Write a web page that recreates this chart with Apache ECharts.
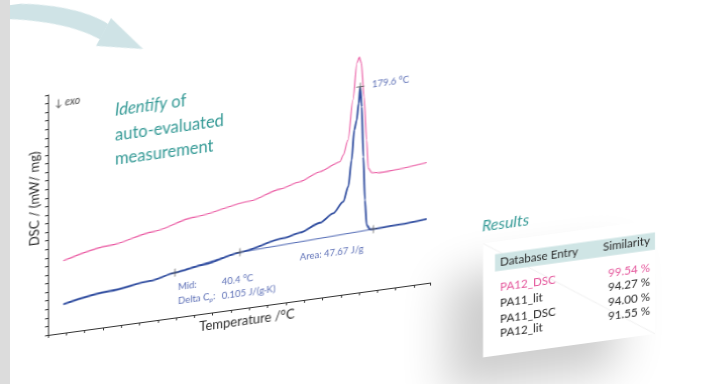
<!DOCTYPE html>
<html><head><meta charset="utf-8">
<script src="https://cdn.jsdelivr.net/npm/echarts@6/dist/echarts.min.js"></script>
<style>
html,body{margin:0;padding:0;width:720px;height:384px;overflow:hidden;background:#fff;}
#band{position:absolute;left:0;top:0;width:10px;height:384px;background:#dcdcdc;z-index:2;}
#chart{position:absolute;left:0;top:0;width:720px;height:480px;transform:skewY(-7.8deg);transform-origin:48px 0;z-index:1;}
</style></head><body>
<div id="band"></div>
<div id="chart"></div>
<script>
// ---- data ----
const pinkTemp = [-43.5, -8.4, 23.9, 53.9, 96.7, 119.3, 134.3, 149.3, 164.4, 166.8, 170.4, 174.1, 177.1, 178.9, 180.4, 182.4, 184.4, 185.6, 188.2, 194.4, 229.5];
const pinkDsc  = [0.842, 0.947, 1.037, 1.139, 1.240, 1.332, 1.386, 1.470, 1.555, 1.628, 1.796, 2.254, 2.680, 2.743, 2.673, 2.275, 1.765, 1.433, 1.377, 1.363, 1.405];

const blueTemp = [-43.5, -8.4, 21.6, 40.4, 62.9, 89.2, 121.8, 134.3, 149.3, 159.3, 166.8, 170.6, 173.1, 175.1, 176.9, 178.4, 179.6, 180.7, 181.9, 183.1, 184.4, 186.9, 189.4, 209.4, 229.5];
const blueDsc  = [0.335, 0.414, 0.467, 0.524, 0.574, 0.658, 0.753, 0.791, 0.875, 0.964, 1.083, 1.251, 1.556, 1.902, 2.015, 2.206, 2.398, 2.162, 1.576, 1.069, 0.774, 0.719, 0.716, 0.727, 0.748];

const areaBaseTemp = [89.2, 189.4];
const areaBaseDsc  = [0.658, 0.716];
const tgTangentTemp = [40.4, 89.2];
const tgTangentDsc  = [0.524, 0.658];

const markerTemp = [40.4, 89.2, 189.4, 179.6];
const markerDsc  = [0.524, 0.658, 0.716, 2.398];

const peakTemp = 179.6;
const tgMid = 40.4;
const deltaCp = 0.105;
const area = 47.67;

const dbEntries  = ['PA12_DSC', 'PA11_lit', 'PA11_DSC', 'PA12_lit'];
const similarity = [99.54, 94.27, 94.00, 91.55];

// ---- helpers ----
const K = Math.tan(7.8 * Math.PI / 180);
// convert a page (screen) point to the unskewed drawing plane
function S(x, y) { return [x, y + K * (x - 48)]; }
function zip(a, b) { return a.map((v, i) => [v, b[i]]); }
function bez(p0, p1, p2, p3, n) {
  const out = [];
  for (let i = 0; i <= n; i++) {
    const t = i / n, u = 1 - t;
    out.push([
      u*u*u*p0[0] + 3*u*u*t*p1[0] + 3*u*t*t*p2[0] + t*t*t*p3[0],
      u*u*u*p0[1] + 3*u*u*t*p1[1] + 3*u*t*t*p2[1] + t*t*t*p3[1]
    ]);
  }
  return out;
}

const PINK = '#e9529e', BLUE = '#2f4c9f', ANN = '#5a6db5', TEAL = '#339995', DARK = '#2a2a2a';
const FONT = 'Lato, "Open Sans", sans-serif';

const arrowBody = bez([2,4],[50,2],[88,11],[108,24],20)
  .concat(bez([100,39.5],[80,28],[45,19.5],[2,19],20))
  .map(p => S(p[0], p[1]));
const arrowHead = [[111,18],[143,49],[96,46]].map(p => S(p[0], p[1]));

function txt(x, y, text, font, fill, align, valign, extra) {
  const st = Object.assign({
    text: text, font: font, fill: fill,
    align: align || 'left', verticalAlign: valign || 'middle',
    textAlign: align || 'left', textVerticalAlign: valign || 'middle'
  }, extra || {});
  return { type: 'text', x: x, y: y, z: 10, silent: true, style: st };
}

const graphics = [
  { type: 'polygon', shape: { points: arrowBody }, style: { fill: '#cfe3e6' }, silent: true },
  { type: 'polygon', shape: { points: arrowHead }, style: { fill: '#cfe3e6' }, silent: true },
  // results card
  { type: 'rect', shape: { x: 483, y: 303, width: 172, height: 114 },
    style: { fill: '#ffffff', shadowBlur: 45, shadowColor: 'rgba(0,0,0,0.2)', shadowOffsetX: -36, shadowOffsetY: 30 }, silent: true },
  { type: 'line', shape: { x1: 483, y1: 303, x2: 655, y2: 417 }, style: { stroke: 'rgba(0,0,0,0.06)', lineWidth: 1 }, silent: true },
  { type: 'rect', shape: { x: 495, y: 315.5, width: 160, height: 17.2 }, style: { fill: '#cfe5e5' }, silent: true },
  txt(482, 285.9, 'Results', 'italic 16px ' + FONT, TEAL),
  txt(500, 323.9, 'Database Entry', '11.6px ' + FONT, DARK),
  txt(650, 323.5, 'Similarity', '11.6px ' + FONT, DARK, 'right'),
  // title
  txt(115, 120, '{i|Identify} of', '16.5px ' + FONT, TEAL, 'left', 'middle',
      { rich: { i: { fontStyle: 'italic', fontSize: 16.5, fontFamily: FONT, fill: TEAL } } }),
  txt(115, 144.5, 'auto-evaluated', '16.5px ' + FONT, TEAL),
  txt(115, 169, 'measurement', '16.5px ' + FONT, TEAL),
  txt(55, 104.9, '\u2193 {i|exo}', '10px ' + FONT, '#444', 'left', 'middle',
      { rich: { i: { fontStyle: 'italic', fontSize: 10.5, fontFamily: FONT, fill: '#444' } } }),
  // annotations
  txt(372, 129.4, peakTemp.toFixed(1) + ' \u00b0C', '9.5px ' + FONT, ANN),
  txt(331.7, 292.2, 'Area: ' + area.toFixed(2) + ' J/g', '9.5px ' + FONT, ANN, 'center'),
  txt(178, 304.7, 'Mid:', '9.5px ' + FONT, ANN),
  txt(221.7, 305.7, tgMid.toFixed(1) + ' \u00b0C', '9.5px ' + FONT, ANN),
  txt(178, 318.8, 'Delta C{sub|p}:', '9.5px ' + FONT, ANN, 'left', 'middle',
      { lineHeight: 13, rich: { sub: { fontSize: 6.5, fontFamily: FONT, fill: ANN, verticalAlign: 'bottom', lineHeight: 13 } } }),
  txt(221.7, 320.1, deltaCp.toFixed(3) + ' J/(g\u00b7K)', '9.5px ' + FONT, ANN)
];

const leftRowY = [349, 365.5, 381, 395];
const rightRowY = [350, 364.5, 379, 393.5];
dbEntries.forEach((name, i) => {
  const col = i === 0 ? '#e5579c' : DARK;
  graphics.push(txt(500, leftRowY[i], name, '11.6px ' + FONT, col));
  graphics.push(txt(650, rightRowY[i], similarity[i].toFixed(2) + ' %', '11.6px ' + FONT, col, 'right'));
});

const chart = echarts.init(document.getElementById('chart'), null, { renderer: 'canvas', width: 720, height: 480 });
chart.setOption({
  animation: false,
  backgroundColor: 'transparent',
  grid: { left: 48, top: 95, width: 382, height: 240, containLabel: false },
  xAxis: {
    type: 'value', min: -55, max: 232, interval: 13.75,
    axisLine: { show: true, onZero: false, lineStyle: { color: '#333', width: 1 } },
    axisTick: { show: true, inside: false, length: 3, lineStyle: { color: '#333', width: 1 } },
    axisLabel: { show: false }, splitLine: { show: false },
    name: 'Temperature /\u00b0C', nameLocation: 'middle', nameGap: 6,
    nameTextStyle: { fontFamily: FONT, fontSize: 13, color: DARK, padding: [0, 0, 0, 16] }
  },
  yAxis: {
    type: 'value', min: 0, max: 2.8, interval: 0.1,
    axisLine: { show: true, onZero: false, lineStyle: { color: '#333', width: 1 } },
    axisTick: { show: true, inside: false, length: 3, lineStyle: { color: '#333', width: 1 } },
    axisLabel: { show: false }, splitLine: { show: false },
    name: 'DSC / (mW/ mg)', nameLocation: 'middle', nameGap: 7,
    nameTextStyle: { fontFamily: FONT, fontSize: 13, color: DARK, padding: [0, 0, 0, 36] }
  },
  series: [
    { type: 'line', data: zip(pinkTemp, pinkDsc), showSymbol: false, smooth: 0.3, smoothMonotone: 'x',
      lineStyle: { color: PINK, width: 1.1 }, silent: true },
    { type: 'line', data: zip(tgTangentTemp, tgTangentDsc), showSymbol: false,
      lineStyle: { color: '#4d66b3', width: 1 }, silent: true },
    { type: 'line', data: zip(areaBaseTemp, areaBaseDsc), showSymbol: false,
      lineStyle: { color: '#4d66b3', width: 1 }, silent: true },
    { type: 'line', data: zip(blueTemp, blueDsc), showSymbol: false, smooth: 0.3, smoothMonotone: 'x',
      lineStyle: { color: BLUE, width: 1.8 }, silent: true },
    { type: 'scatter', data: zip(markerTemp, markerDsc),
      symbol: 'path://M4,0h1v4h4v1h-4v4h-1v-4h-4v-1h4z', symbolSize: 8,
      itemStyle: { color: '#555' }, silent: true, z: 5 }
  ],
  graphic: graphics
});
</script></body></html>
